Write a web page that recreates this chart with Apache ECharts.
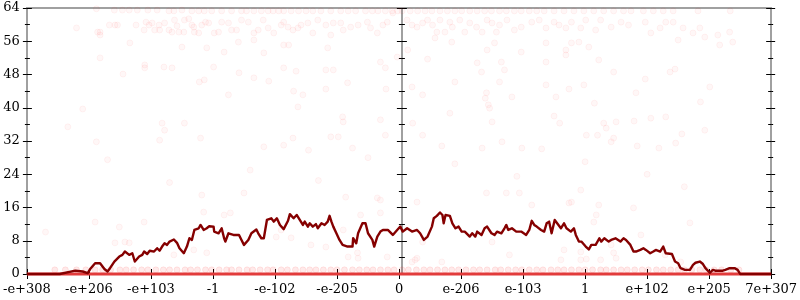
<!DOCTYPE html>
<html><head><meta charset="utf-8">
<script src="https://cdn.jsdelivr.net/npm/echarts@6/dist/echarts.min.js"></script>
<style>html,body{margin:0;padding:0;background:#fff}#c{width:800px;height:300px}</style>
</head><body><div id="c"></div>
<script>
// x positions are in tick-index units (0..12), y in 0..64
const tickLabels = ['-e+308','-e+206','-e+103','-1','-e-102','-e-205','0','e-206','e-103','1','e+102','e+205','7e+307'];
const yTicks = [0, 8, 16, 24, 32, 40, 48, 56, 64];

const linePoints = [
[0,0],[0.53,0],[0.78,0.8],[0.90,0.6],[0.98,0.2],[1.02,1.2],[1.10,2.6],[1.18,2.6],[1.25,1.2],[1.30,0.6],
[1.34,1.4],[1.41,3.0],[1.49,4.2],[1.54,4.6],[1.58,5.4],[1.65,4.6],[1.70,5.0],[1.74,3.0],[1.81,4.2],[1.86,4.6],
[1.89,5.4],[1.94,4.8],[1.98,5.6],[2.05,5.4],[2.10,6.2],[2.14,5.6],[2.18,6.6],[2.22,7.4],[2.26,7.0],[2.30,7.8],
[2.37,8.3],[2.42,7.5],[2.46,6.2],[2.53,5.0],[2.58,6.6],[2.62,8.6],[2.66,8.2],[2.70,10.6],[2.77,11.0],[2.80,11.8],
[2.85,10.6],[2.90,11.0],[2.94,11.5],[3.01,11.4],[3.02,10.2],[3.09,9.8],[3.14,11.0],[3.18,8.6],[3.20,7.8],[3.25,9.8],
[3.33,9.4],[3.42,9.4],[3.46,8.2],[3.50,7.0],[3.57,8.2],[3.62,9.8],[3.70,10.7],[3.73,9.8],[3.78,8.6],[3.82,8.6],
[3.87,13.0],[3.94,13.4],[3.98,12.6],[4.03,13.4],[4.08,11.8],[4.14,10.8],[4.21,12.8],[4.24,14.4],[4.30,13.4],[4.35,14.2],
[4.40,13.0],[4.45,11.8],[4.48,12.6],[4.53,11.4],[4.56,12.2],[4.61,11.4],[4.66,12.0],[4.69,11.0],[4.75,12.2],[4.80,11.8],
[4.85,12.6],[4.88,14.0],[4.91,12.6],[4.94,11.4],[4.99,9.8],[5.04,8.2],[5.09,7.0],[5.17,6.6],[5.25,6.6],[5.26,8.6],
[5.31,7.4],[5.34,9.8],[5.41,12.2],[5.46,12.2],[5.50,9.8],[5.57,8.2],[5.60,6.6],[5.65,9.0],[5.70,10.2],[5.74,10.6],
[5.82,10.6],[5.90,9.4],[5.97,10.6],[6.02,11.4],[6.06,10.2],[6.13,11.0],[6.21,10.2],[6.29,10.6],[6.34,9.8],[6.40,8.2],
[6.46,9.0],[6.53,11.4],[6.56,13.4],[6.61,14.0],[6.66,14.8],[6.70,14.2],[6.72,12.2],[6.75,14.2],[6.78,13.8],[6.82,14.0],
[6.86,12.2],[6.91,11.0],[6.96,11.4],[7.01,10.2],[7.06,10.2],[7.09,10.6],[7.14,9.0],[7.18,9.8],[7.23,9.0],[7.26,10.2],
[7.33,9.4],[7.38,11.0],[7.42,11.4],[7.49,9.8],[7.54,9.4],[7.58,10.2],[7.65,9.8],[7.70,11.0],[7.73,11.8],[7.76,10.6],
[7.82,11.0],[7.89,10.2],[7.97,10.2],[8.05,9.4],[8.10,10.6],[8.14,12.8],[8.18,11.8],[8.22,11.4],[8.29,10.6],[8.34,10.2],
[8.38,12.2],[8.42,12.6],[8.46,9.8],[8.51,13.0],[8.54,12.6],[8.61,11.0],[8.66,12.2],[8.70,11.0],[8.77,10.2],[8.82,11.0],
[8.85,9.4],[8.90,7.8],[8.94,7.8],[9.01,6.6],[9.06,5.9],[9.10,7.0],[9.17,7.0],[9.23,8.6],[9.26,7.8],[9.31,8.6],
[9.38,7.8],[9.42,8.2],[9.49,8.6],[9.57,7.8],[9.62,8.6],[9.66,8.2],[9.73,7.0],[9.78,5.4],[9.82,5.4],[9.89,5.8],
[9.94,6.2],[9.98,5.8],[10.05,5.0],[10.10,5.4],[10.14,5.8],[10.21,5.4],[10.26,6.6],[10.30,5.0],[10.40,4.8],[10.45,3.0],
[10.50,2.6],[10.54,1.4],[10.61,1.0],[10.64,1.4],[10.69,1.0],[10.74,2.2],[10.78,2.7],[10.85,3.0],[10.90,2.4],[10.94,1.4],
[11.01,0.3],[11.06,1.0],[11.10,0.8],[11.22,0.8],[11.26,1.0],[11.33,1.4],[11.41,1.4],[11.46,1.0],[11.50,0],[12,0]
];

const zeroPoints = [[0,0],[12,0]];

const topRowLeftX = [2.66,2.77,2.86,2.98,3.14,3.30,3.46,3.54,3.66,3.78,3.89,3.97,4.06,4.14,4.26,4.38,4.50,4.61,4.74,4.90,5.06,5.18,5.30,5.46,5.57,5.66,5.78,5.89,5.98];
const topRowRightX = [6.05,6.18,6.30,6.42,6.53,6.66,6.78,6.90,7.01,7.14,7.26,7.38,7.49,7.62,7.73,7.86,7.97,8.10,8.22,8.34,8.50,8.66,8.82,8.98,9.14,9.30,9.46,9.62,9.74,9.94,10.10,10.26,10.42,10.82,11.34];
const topRowY = 63.3;

const upperPoints = [
[1.12,63.8],[0.80,59.2],[1.14,58.2],[1.18,58.2],[1.18,57.5],[1.33,59.9],[1.42,59.9],[1.46,59.9],[1.41,63.5],[1.54,63.5],
[1.65,63.5],[1.78,63.5],[1.66,55.6],[1.18,52.0],[1.76,59.9],[1.89,58.7],[1.92,60.6],[1.97,59.9],[2.02,60.4],[2.06,58.7],
[2.13,59.9],[2.14,58.7],[2.22,60.4],[1.95,63.5],[2.10,63.5],[2.29,63.3],[2.37,63.3],[2.50,63.5],[2.29,58.7],[2.34,58.2],
[2.42,59.7],[2.45,58.2],[2.53,58.2],[2.38,61.1],[2.54,61.1],[2.61,61.4],[2.66,59.9],[2.69,59.4],[2.70,58.2],[2.77,58.0],
[2.82,59.9],[2.88,60.6],[2.93,60.4],[3.02,58.0],[3.09,58.2],[3.14,60.6],[3.25,60.4],[3.30,58.7],[3.38,58.7],[3.46,61.1],
[3.57,60.6],[3.66,58.0],[3.73,58.7],[3.81,61.1],[3.89,59.2],[3.98,58.0],[4.10,59.9],[4.14,60.6],[4.21,59.4],[4.29,58.7],
[4.37,59.2],[4.42,59.9],[4.53,60.4],[4.61,58.0],[4.69,61.1],[4.82,59.9],[4.90,57.5],[4.94,60.4],[5.06,60.4],[5.10,58.7],
[5.22,59.4],[5.34,59.9],[5.49,60.6],[5.54,59.2],[5.65,58.0],[5.74,59.9],[5.81,60.6],[5.90,62.8],
[6.13,61.1],[6.21,59.9],[6.29,59.4],[6.38,60.4],[6.46,61.1],[6.54,59.9],[6.61,58.2],[6.66,61.1],[6.74,58.2],[6.82,60.6],
[6.86,59.4],[6.98,61.1],[7.06,58.2],[7.14,60.4],[7.25,59.4],[7.34,58.2],[7.42,61.1],[7.50,60.4],[7.57,58.2],[7.62,59.9],
[7.74,61.1],[7.86,58.7],[7.97,59.4],[8.14,60.6],[8.26,61.1],[8.37,59.2],[8.50,60.6],[8.58,59.9],[8.69,59.2],[8.78,60.6],
[8.93,59.2],[9.01,61.1],[9.17,58.7],[9.25,61.1],[9.42,59.4],[9.58,60.6],[9.70,59.9],[9.97,60.6],[10.06,58.0],[10.21,59.2],
[10.30,60.6],[10.42,60.6],[10.58,59.2],[10.74,58.0],[10.85,59.2],[10.93,57.0],[11.14,57.5],[11.33,58.2],[11.38,55.8],[11.17,55.1],
[10.50,56.3]
];

const middlePoints = [
[2.50,54.6],[2.90,54.4],[3.18,53.4],[3.41,55.8],[3.66,56.3],[3.82,53.2],[4.14,55.1],[4.22,55.1],[4.85,54.4],[5.70,51.0],
[5.97,52.2],[1.90,50.3],[1.90,49.6],[2.21,49.8],[2.34,49.6],[3.01,49.8],[3.42,48.4],[3.66,47.2],[4.14,49.6],[4.34,48.8],
[4.82,49.1],[4.94,49.1],[5.78,49.6],[1.55,48.1],[2.78,46.2],[2.86,46.7],[3.90,46.4],[5.17,46.0],[4.82,44.5],[5.79,44.5],
[4.30,44.0],[4.45,43.1],[3.25,43.1],[0.90,39.7],[4.37,40.2],[0.66,35.4],[2.18,36.3],[2.22,34.6],[2.54,36.3],[5.09,37.8],
[5.10,36.6],[5.70,37.1],[5.78,33.4],[2.14,32.2],[2.80,32.7],[1.12,31.8],[4.29,32.7],[4.90,33.0],[5.02,33.0],[3.82,30.6],
[4.14,31.0],[4.54,29.8],[5.25,30.3],
[6.14,53.9],[6.58,56.8],[6.85,55.8],[7.42,53.9],[7.54,55.6],[7.97,53.4],[8.37,55.6],[8.69,53.9],[8.78,55.6],[8.90,55.8],
[9.06,54.6],[9.22,51.5],[6.46,51.7],[7.26,50.8],[7.65,51.0],[8.69,52.7],[7.33,48.6],[7.70,49.1],[8.37,51.0],[9.46,48.6],
[10.37,48.6],[10.45,49.3],[6.90,46.2],[7.62,46.2],[9.97,46.9],[6.21,45.0],[8.37,45.5],[8.98,45.5],[8.74,44.5],[11.01,45.0],
[6.38,43.1],[7.41,43.6],[7.39,42.3],[7.82,42.6],[8.53,42.6],[9.15,41.1],[9.82,43.6],[10.86,41.4],[7.44,40.7],[7.46,39.9],
[6.82,38.7],[8.50,38.0],[6.22,36.3],[7.50,36.6],[8.59,36.3],[9.30,36.3],[9.50,36.6],[9.79,36.8],[10.06,37.5],[10.30,37.8],
[10.93,34.6],[6.38,33.4],[9.02,33.4],[9.20,33.4],[9.34,35.1],[9.46,32.7],[10.56,33.7],[6.69,30.8],[7.34,30.3],[7.66,31.8],
[7.98,30.3],[8.30,30.1],[9.42,31.8],[9.84,30.8],[10.19,30.3],[10.46,31.5],
[1.30,27.5],[2.30,22.0],[3.60,25.0],[4.70,22.5],[5.50,28.0],[6.90,26.5],[7.90,23.5],[9.00,27.0],[10.00,24.0],[10.60,21.0]
];

const lowerPoints = [
[0.30,10.1],[1.10,12.5],[1.49,11.3],[1.58,7.7],[1.65,7.5],[1.42,7.5],[1.89,12.5],[2.82,19.0],[2.85,14.9],[3.18,14.2],
[3.28,14.7],[2.37,4.6],[2.69,5.8],[2.90,5.1],[3.50,19.5],[4.02,8.9],[4.10,10.6],[4.26,8.7],[4.58,7.0],[4.82,6.5],
[5.14,18.5],[5.18,4.1],[5.34,3.8],[5.10,10.6],[5.38,14.2],[5.70,14.7],[5.65,18.3],[5.70,17.8],[5.33,5.1],[5.81,4.1],
[6.21,2.9],[6.29,3.8],[6.29,17.3],[6.38,7.7],[6.26,3.4],[6.69,2.9],[7.50,7.7],[7.78,4.6],[8.14,16.6],[7.41,19.5],
[7.73,19.5],[7.94,19.5],[8.74,17.1],[8.78,17.3],[9.22,16.6],[9.18,14.2],[9.78,15.9],[9.14,12.5],[8.66,5.8],[8.93,5.3],
[8.61,3.4],[8.93,3.4],[9.02,3.6],[9.25,3.4],[9.46,5.1],[9.50,3.8],[9.42,7.0],[9.90,9.4],[10.29,4.6],[10.69,12.3],
[10.54,2.9],[8.93,20.2]
];

const bandX = [0.45,0.62,0.80,0.95,1.10,1.22,1.35,1.50,1.60,1.72,1.85,1.95,2.08,2.20,2.30,2.42,2.55,2.64,2.75,2.88,2.98,3.10,3.22,3.30,3.42,3.55,3.64,3.76,3.88,3.97,4.10,4.20,4.33,4.45,4.56,4.66,4.78,4.90,5.00,5.12,5.25,5.36,5.48,5.58,5.70,5.82,5.92,6.05,6.15,6.28,6.40,6.50,6.62,6.74,6.85,6.96,7.08,7.20,7.30,7.42,7.55,7.64,7.76,7.88,7.98,8.10,8.22,8.32,8.45,8.56,8.66,8.78,8.90,9.00,9.12,9.25,9.34,9.46,9.58,9.68,9.80,9.92,10.02,10.15,10.26,10.38,10.50,10.60,10.72,10.85,10.95,11.08,11.20,11.35,11.48];
const bandY = 1;

const scatterData = []
  .concat(topRowLeftX.map(x => [x, topRowY]))
  .concat(topRowRightX.map(x => [x, topRowY]))
  .concat(upperPoints, middlePoints, lowerPoints);
const bandData = bandX.map(x => [x, bandY]);

const FONT = 'DejaVu Serif';
const GRAY = '#a0a0a0';
function yAx(pos, offset, showLine, inside, showLabel, major, minor) {
  return {
    type: 'value', min: 0, max: 64, interval: 8, position: pos, offset: offset,
    axisLine: { show: showLine, onZero: false, lineStyle: { color: GRAY, width: 2 } },
    axisTick: { show: true, inside: inside, length: major, lineStyle: { color: '#000', width: 1 } },
    minorTick: { show: true, splitNumber: 2, length: minor, lineStyle: { color: '#000', width: 1 } },
    axisLabel: { show: showLabel, fontFamily: FONT, fontSize: 13, color: '#000', margin: 7 },
    splitLine: { show: false }
  };
}
function xAx(pos, showLine, showTick, inside, showLabel) {
  return {
    type: 'value', min: 0, max: 12, interval: 1, position: pos,
    axisLine: { show: showLine, onZero: false, lineStyle: { color: GRAY, width: 2 } },
    axisTick: { show: showTick, inside: inside, length: 5, lineStyle: { color: '#000', width: 1 } },
    axisLabel: { show: showLabel, fontFamily: FONT, fontSize: 13, color: '#000', margin: 9,
      formatter: v => tickLabels[Math.round(v)] },
    splitLine: { show: false }
  };
}

const chart = echarts.init(document.getElementById('c'), null, { renderer: 'canvas' });
chart.setOption({
  animation: false,
  backgroundColor: '#fff',
  grid: { left: 24, right: 26, top: 8, bottom: 26, containLabel: false },
  xAxis: [
    xAx('bottom', true, true, false, true),
    xAx('bottom', false, true, true, false),
    xAx('top', true, false, false, false)
  ],
  yAxis: [
    yAx('left', 0, true, false, true, 4, 2),
    yAx('left', 0, false, true, false, 5, 3),
    yAx('right', 0, true, false, false, 4, 2),
    yAx('right', 0, false, true, false, 5, 3),
    yAx('left', -375, true, false, false, 5, 3),
    yAx('left', -375, false, true, false, 5, 3)
  ],
  series: [
    {
      type: 'scatter', data: scatterData, symbol: 'circle', symbolSize: 6,
      itemStyle: { color: 'rgba(255,0,0,0.04)', borderColor: 'rgba(255,0,0,0.06)', borderWidth: 1 },
      z: 2, silent: true
    },
    {
      type: 'scatter', data: bandData, symbol: 'circle', symbolSize: 6, clip: false,
      itemStyle: { color: 'rgba(255,0,0,0.10)', borderColor: 'rgba(255,0,0,0.10)', borderWidth: 1 },
      z: 2, silent: true
    },
    {
      type: 'line', data: zeroPoints, symbol: 'none', clip: false,
      lineStyle: { color: '#e23b3b', width: 3 }, z: 3, silent: true
    },
    {
      type: 'line', data: linePoints, symbol: 'none', clip: false,
      lineStyle: { color: '#850000', width: 2.4, join: 'round' }, z: 4, silent: true
    }
  ]
});
</script>
</body></html>
